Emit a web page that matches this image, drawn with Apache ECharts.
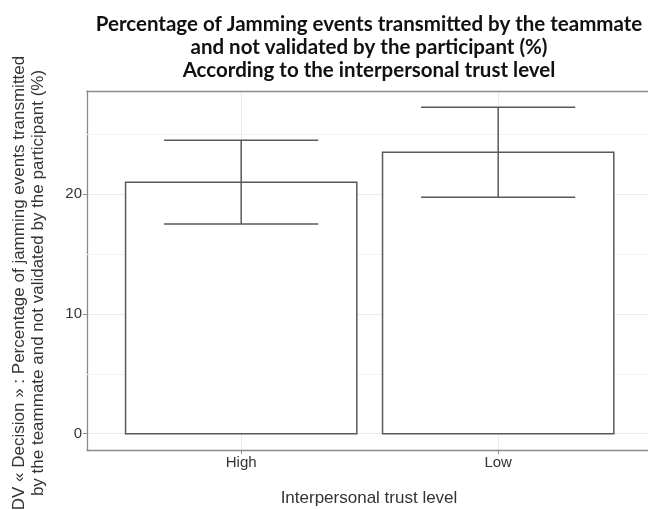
<!DOCTYPE html>
<html>
<head>
<meta charset="utf-8">
<script src="https://cdn.jsdelivr.net/npm/echarts@6/dist/echarts.min.js"></script>
<style>
  html, body { margin: 0; padding: 0; background: #ffffff; }
  #chart { width: 648px; height: 510px; }
</style>
</head>
<body>
<div id="chart"></div>
<script>
// Trust level groups and the mean percentage with its interval bounds
const categories = ['High', 'Low'];
const meanValues = [21.0, 23.5];
const lowerValues = [17.5, 19.75];
const upperValues = [24.5, 27.25];

// Axis ticks and light minor grid lines
const yTicks = [0, 10, 20];
const yMinorLines = [5, 15, 25];

const titleLines = [
  'Percentage of Jamming events transmitted by the teammate',
  'and not validated by the participant (%)',
  'According to the interpersonal trust level'
];
const yTitleLines = [
  'DV « Decision » : Percentage of jamming events transmitted',
  'by the teammate and not validated by the participant (%)'
];
const xTitle = 'Interpersonal trust level';

// Groups sit at x = 1, 2 on a continuous axis
const positions = categories.map((c, i) => i + 1);
const barHalfWidth = 0.45;
const whiskerHalfWidth = 0.3;

const xMin = 0.4, xMax = 2.583;
const yMin = -1.36, yMax = 28.61;
const frameColor = '#8a8a8a';

const chart = echarts.init(document.getElementById('chart'), null, { renderer: 'canvas' });

const option = {
  animation: false,
  backgroundColor: '#ffffff',
  grid: { left: 87, top: 91, bottom: 60, right: 0, show: false },
  xAxis: [
    {
      type: 'value', position: 'bottom',
      min: xMin, max: xMax,
      axisLine: { show: true, onZero: false, lineStyle: { color: frameColor, width: 1.3 } },
      axisTick: { show: true, customValues: positions, length: 4, lineStyle: { color: frameColor, width: 1 } },
      axisLabel: {
        customValues: positions,
        formatter: v => categories[Math.round(v) - 1] || '',
        color: '#333333', fontFamily: 'Liberation Sans', fontSize: 15, margin: 5
      },
      splitLine: { show: true, lineStyle: { color: '#ebebeb', width: 1 } }
    },
    {
      // top edge of the panel frame
      type: 'value', position: 'top',
      min: xMin, max: xMax,
      axisLine: { show: true, onZero: false, lineStyle: { color: frameColor, width: 1.3 } },
      axisTick: { show: false }, axisLabel: { show: false }, splitLine: { show: false }
    }
  ],
  yAxis: {
    type: 'value',
    min: yMin, max: yMax,
    axisLine: { show: true, onZero: false, lineStyle: { color: frameColor, width: 1.3 } },
    axisTick: { show: true, customValues: yTicks, length: 4, lineStyle: { color: frameColor, width: 1 } },
    axisLabel: {
      customValues: yTicks,
      color: '#333333', fontFamily: 'Liberation Sans', fontSize: 15, margin: 5
    },
    splitLine: { show: true, lineStyle: { color: '#ebebeb', width: 1 } }
  },
  graphic: [
    {
      type: 'text', x: 369, y: 13,
      style: {
        text: titleLines.join('\n'), align: 'center', verticalAlign: 'top',
        font: 'bold 20.5px Lato', lineHeight: 23, fill: '#111111'
      }
    },
    {
      type: 'text', x: 29, y: 283, rotation: Math.PI / 2,
      style: {
        text: yTitleLines.join('\n'), align: 'center', verticalAlign: 'middle',
        font: '17px "Liberation Sans"', lineHeight: 19, fill: '#333333'
      }
    },
    {
      type: 'text', x: 369, y: 498,
      style: {
        text: xTitle, align: 'center', verticalAlign: 'middle',
        font: '17px "Liberation Sans"', fill: '#333333'
      }
    }
  ],
  series: [
    {
      type: 'custom',
      name: 'mean',
      z: 2,
      data: positions.map((p, i) => [p, meanValues[i]]),
      renderItem: (params, api) => {
        const x = api.value(0), v = api.value(1);
        const a = api.coord([x - barHalfWidth, v]);
        const b = api.coord([x + barHalfWidth, 0]);
        return {
          type: 'rect',
          shape: { x: a[0], y: a[1], width: b[0] - a[0], height: b[1] - a[1] },
          style: { fill: '#ffffff', stroke: '#595959', lineWidth: 1.5 }
        };
      },
      markLine: {
        silent: true, symbol: 'none', z: 1,
        label: { show: false },
        lineStyle: { color: '#f2f2f2', width: 1, type: 'solid' },
        data: yMinorLines.map(v => ({ yAxis: v }))
      }
    },
    {
      type: 'custom',
      name: 'interval',
      z: 3,
      data: positions.map((p, i) => [p, lowerValues[i], upperValues[i]]),
      renderItem: (params, api) => {
        const x = api.value(0), lo = api.value(1), hi = api.value(2);
        const top = api.coord([x, hi]);
        const bot = api.coord([x, lo]);
        const tl = api.coord([x - whiskerHalfWidth, hi]);
        const tr = api.coord([x + whiskerHalfWidth, hi]);
        const bl = api.coord([x - whiskerHalfWidth, lo]);
        const br = api.coord([x + whiskerHalfWidth, lo]);
        const style = { stroke: '#595959', lineWidth: 1.5 };
        return {
          type: 'group',
          children: [
            { type: 'line', shape: { x1: top[0], y1: top[1], x2: bot[0], y2: bot[1] }, style },
            { type: 'line', shape: { x1: tl[0], y1: tl[1], x2: tr[0], y2: tr[1] }, style },
            { type: 'line', shape: { x1: bl[0], y1: bl[1], x2: br[0], y2: br[1] }, style }
          ]
        };
      }
    }
  ]
};

chart.setOption(option);
</script>
</body>
</html>
